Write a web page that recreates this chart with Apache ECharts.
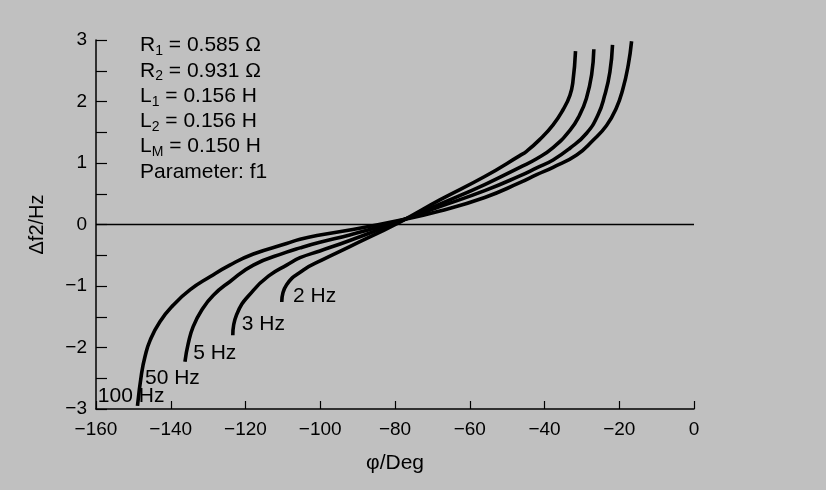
<!DOCTYPE html>
<html><head><meta charset="utf-8">
<script src="https://cdn.jsdelivr.net/npm/echarts/dist/echarts.min.js"></script>
<style>html,body{margin:0;padding:0;background:#c0c0c0}#c{width:826px;height:490px}</style>
</head><body><div id="c"></div>
<script>
// x ticks (phi / Deg) and y ticks (delta f2 / Hz)
const xTicks = [-160, -140, -120, -100, -80, -60, -40, -20, 0];
const yTicks = [-3, -2, -1, 0, 1, 2, 3];

// curve f1 = 100 Hz (and 50 Hz, coincident)
const curve100Hz = [[-148.9,-2.95],[-147.8,-2.42],[-146.9,-2.15],[-145.5,-1.88],[-142.9,-1.58],[-139.3,-1.31],[-134.8,-1.06],[-129.5,-0.85],[-124.2,-0.66],[-117.9,-0.48],[-109,-0.31],[-105.4,-0.24],[-100.1,-0.17],[-92.1,-0.09],[-78.7,0.07],[-68,0.22],[-56,0.44],[-46.6,0.68],[-42.1,0.81],[-37.7,0.93],[-31.4,1.13],[-27.0,1.37],[-23.4,1.61],[-20.8,1.89],[-19.0,2.21],[-17.6,2.59],[-16.7,2.98]];
// f1 = 5 Hz
const curve5Hz = [[-136.2,-2.23],[-135.3,-1.93],[-134,-1.66],[-131.7,-1.39],[-128.6,-1.15],[-124.2,-0.93],[-117.9,-0.66],[-109,-0.45],[-105.4,-0.38],[-100.1,-0.29],[-92.1,-0.17],[-78.7,0.06],[-68,0.29],[-56,0.55],[-46.6,0.79],[-42.1,0.92],[-37.7,1.05],[-33.2,1.24],[-28.8,1.48],[-25.7,1.78],[-23.9,2.10],[-22.5,2.48],[-21.8,2.92]];
// f1 = 3 Hz
const curve3Hz = [[-123.4,-1.80],[-122.4,-1.47],[-117.9,-1.07],[-113.4,-0.82],[-109,-0.66],[-105.4,-0.54],[-100.1,-0.43],[-92.1,-0.26],[-78.7,0.05],[-68,0.33],[-56,0.65],[-46.6,0.93],[-42.1,1.07],[-37.7,1.25],[-33.2,1.53],[-30.6,1.78],[-28.8,2.05],[-27.4,2.43],[-26.8,2.85]];
// f1 = 2 Hz
const curve2Hz = [[-110.3,-1.26],[-109,-0.98],[-104.5,-0.74],[-99.6,-0.58],[-92.1,-0.36],[-78.7,0.04],[-68,0.40],[-56,0.78],[-46.6,1.12],[-44.8,1.19],[-41.3,1.38],[-37.7,1.62],[-35.0,1.87],[-33.2,2.10],[-32.4,2.32],[-31.7,2.82]];

// curve labels: [text, x, y]
const curveLabels = {
  c100: [['100 Hz', -159.5, -2.79], ['50 Hz', -146.9, -2.50]],
  c5: [['5 Hz', -134, -2.09]],
  c3: [['3 Hz', -121, -1.62]],
  c2: [['2 Hz', -107.3, -1.16]]
};

const paramLines = [
  ['R', '1', ' = 0.585 Ω'],
  ['R', '2', ' = 0.931 Ω'],
  ['L', '1', ' = 0.156 H'],
  ['L', '2', ' = 0.156 H'],
  ['L', 'M', ' = 0.150 H'],
  ['Parameter: f1', '', '']
];

const FONT = '"Liberation Sans", Arial, sans-serif';
const fmtNum = v => v < 0 ? '\u2212' + (-v) : String(v);

function mp(list) {
  return {
    symbol: 'circle', symbolSize: 0, silent: true,
    label: { show: true, position: 'inside', align: 'left', verticalAlign: 'middle',
      color: '#000', fontSize: 21, fontFamily: FONT, formatter: p => p.name },
    data: list.map(l => ({ name: l[0], coord: [l[1], l[2]] }))
  };
}

function mkSeries(data, labels, extra) {
  return Object.assign({
    type: 'line', data: data, showSymbol: false, smooth: 0.5,
    lineStyle: { color: '#000', width: 3.6 }, silent: true, animation: false,
    markPoint: mp(labels)
  }, extra || {});
}

const richText = paramLines.map(l => l[1] ? `{n|${l[0]}}{s|${l[1]}}{n|${l[2]}}` : `{n|${l[0]}}`).join('\n');

const chart = echarts.init(document.getElementById('c'), null, { renderer: 'canvas' });
chart.setOption({
  backgroundColor: '#c0c0c0',
  animation: false,
  grid: { left: 96, right: 132, top: 40, bottom: 81 },
  xAxis: {
    type: 'value', min: xTicks[0], max: xTicks[xTicks.length - 1], interval: 20,
    name: 'φ/Deg', nameLocation: 'middle', nameGap: 44,
    nameTextStyle: { color: '#000', fontSize: 21, fontFamily: FONT },
    axisLine: { show: true, onZero: false, lineStyle: { color: '#000', width: 1.5 } },
    axisTick: { show: true, inside: true, length: 8, lineStyle: { color: '#000', width: 1.2 } },
    axisLabel: { color: '#000', fontSize: 19, fontFamily: FONT, margin: 11, formatter: fmtNum },
    splitLine: { show: false }
  },
  yAxis: {
    type: 'value', min: yTicks[0], max: yTicks[yTicks.length - 1], interval: 1,
    name: 'Δf2/Hz', nameLocation: 'middle', nameGap: 49,
    nameTextStyle: { color: '#000', fontSize: 20, fontFamily: FONT },
    axisLine: { show: true, onZero: false, lineStyle: { color: '#000', width: 1.5 } },
    axisTick: { show: true, inside: true, length: 11, lineStyle: { color: '#000', width: 1.2 } },
    minorTick: { show: true, splitNumber: 2, length: 11, lineStyle: { color: '#000', width: 1.2 } },
    axisLabel: { color: '#000', fontSize: 19, fontFamily: FONT, margin: 9, formatter: fmtNum },
    splitLine: { show: false }
  },
  graphic: [{
    type: 'text', left: 140, top: 35,
    style: {
      text: richText,
      fill: '#000',
      rich: {
        n: { fontSize: 21, fontFamily: FONT, lineHeight: 25.3, verticalAlign: 'middle', fill: '#000', color: '#000' },
        s: { fontSize: 14, fontFamily: FONT, lineHeight: 25.3, verticalAlign: 'bottom', fill: '#000', color: '#000' }
      }
    }
  }],
  series: [
    mkSeries(curve100Hz, curveLabels.c100, {
      markLine: { silent: true, symbol: ['none', 'none'], label: { show: false },
        lineStyle: { color: '#000', width: 1.3, type: 'solid' }, data: [{ yAxis: 0 }] }
    }),
    mkSeries(curve5Hz, curveLabels.c5),
    mkSeries(curve3Hz, curveLabels.c3),
    mkSeries(curve2Hz, curveLabels.c2)
  ]
});
</script></body></html>
